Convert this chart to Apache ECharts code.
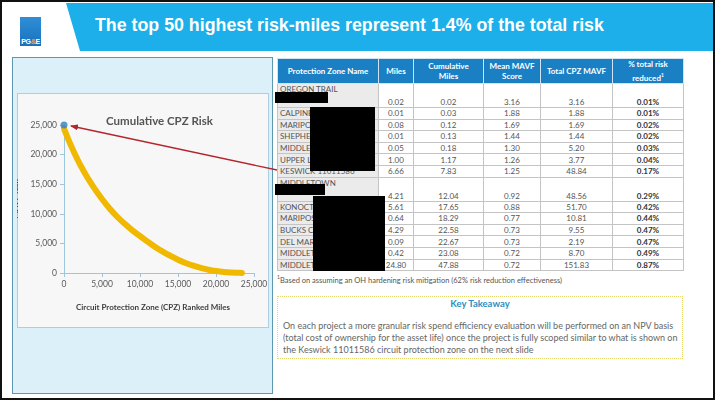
<!DOCTYPE html>
<html>
<head>
<meta charset="utf-8">
<script src="https://cdn.jsdelivr.net/npm/echarts@6/dist/echarts.min.js"></script>
<style>
  html,body{margin:0;padding:0;width:715px;height:400px;overflow:hidden;background:#fff;font-family:Lato,"Open Sans",sans-serif;}
  #page{position:absolute;left:0;top:0;width:711px;height:396px;border:2px solid #111;}
  .abs{position:absolute;}
  #hdr{left:62px;top:3px;width:651px;height:48px;background:#1cafe9;clip-path:polygon(4px 0,100% 0,100% 100%,18px 100%);}
  #title{left:95px;top:15px;color:#fff;font-family:"Liberation Sans Narrow","Liberation Sans",sans-serif;font-weight:bold;font-size:17.8px;white-space:nowrap;}
  #logo{left:20px;top:17px;width:21px;height:29px;background:linear-gradient(#2f8fd6,#1a70bd);}
  #logo span{position:absolute;left:0;bottom:1px;width:21px;text-align:center;color:#fff;font-family:"Liberation Sans Narrow",sans-serif;font-weight:bold;font-size:7px;letter-spacing:-0.3px;}
  #panel{left:12px;top:57px;width:259px;height:335px;background:#dcf0f9;border:1.5px solid #5e97b0;}
  #chartbox{left:17px;top:93px;width:250px;height:233px;background:#f7f7f7;border:1px solid #a9cfe0;}
  #chart{left:17px;top:93px;width:251px;height:234px;}
  table{border-collapse:collapse;table-layout:fixed;font-family:Lato,sans-serif;}
  #tbl{left:277px;top:58px;width:406px;}
  #tbl th{background:#1b7fc4;color:#fff;font-size:8px;font-weight:bold;height:24px;padding:0 2px;border:1px solid #cfe3f2;line-height:10.5px;}
  #tbl td{font-size:8px;color:#555;border:1px solid #c4c4c4;text-align:center;padding:0;height:10.6px;line-height:10px;white-space:nowrap;overflow:hidden;}
  #tbl td.n{background:#ebebeb;text-align:left;padding-left:2px;}
  #tbl td.p{font-weight:bold;color:#333;}
  #tbl tr.tall td{height:23px;vertical-align:bottom;}
  #tbl tr.tall td.n{vertical-align:top;}
  .blk{position:absolute;background:#000;}
  #foot{left:277px;top:274px;font-size:7.5px;color:#555;white-space:nowrap;}
  #kt{left:277px;top:296px;width:404px;height:61px;border:1.5px dotted #e3d66a;}
  #kth{left:277px;top:298px;width:406px;text-align:center;color:#2d8fc0;font-weight:bold;font-size:9.5px;}
  #ktb{left:283px;top:320px;width:398px;color:#666;font-size:9px;line-height:11.8px;}
  #arrow{left:0;top:0;width:715px;height:400px;pointer-events:none;}
</style>
</head>
<body>
<div id="page"></div>
<div id="hdr" class="abs"></div>
<div id="title" class="abs">The top 50 highest risk-miles represent 1.4% of the total risk</div>
<div id="logo" class="abs"><span>PG<span style="position:static;color:#f5a623;">&amp;</span>E</span></div>
<div id="panel" class="abs"></div>
<div id="chartbox" class="abs"></div>
<div id="chart" class="abs"></div>
<div id="tbl" class="abs"></div>
<div id="foot" class="abs"><sup style="font-size:5px">1</sup>Based on assuming an OH hardening risk mitigation (62% risk reduction effectiveness)</div>
<div id="kt" class="abs"></div>
<div id="kth" class="abs">Key Takeaway</div>
<div id="ktb" class="abs">On each project a more granular risk spend efficiency evaluation will be performed on an NPV basis (total cost of ownership for the asset life) once the project is fully scoped similar to what is shown on the Keswick 11011586 circuit protection zone on the next slide</div>
<div class="blk" style="left:275px;top:92px;width:53px;height:11px"></div>
<div class="blk" style="left:310px;top:107px;width:65px;height:64px"></div>
<div class="blk" style="left:275px;top:184px;width:50px;height:11px"></div>
<div class="blk" style="left:313px;top:196px;width:72px;height:75px"></div>
<svg id="arrow" class="abs" viewBox="0 0 715 400">
  <defs><marker id="ah" markerWidth="8" markerHeight="6" refX="7" refY="3" orient="auto" markerUnits="userSpaceOnUse"><path d="M0,0 L8,3 L0,6 z" fill="#b3262c"/></marker></defs>
  <line x1="277" y1="170" x2="71" y2="126" stroke="#b3262c" stroke-width="1.3" marker-end="url(#ah)"/>
</svg>
<script>
// ---- chart data ----
const cpzMiles = [0, 500, 1000, 1500, 2000, 3000, 4000, 5000, 6000, 7000, 8000, 9000, 10000, 11000, 12000, 13000, 14000, 15000, 16000, 17000, 18000, 19000, 20000, 21000, 22000, 23000, 23400];
const mavfRisk = [24400, 22800, 21300, 19900, 18600, 16300, 14300, 12500, 10900, 9500, 8300, 7200, 6250, 5300, 4400, 3600, 2900, 2250, 1700, 1230, 860, 560, 340, 180, 90, 40, 20];
const topPointMiles = [0];
const topPointRisk = [25000];
const axisTicks = [0, 5000, 10000, 15000, 20000, 25000];

// ---- table data ----
const zoneNames = ["OREGON TRAIL", "CALPINE", "MARIPOSA", "SHEPHERD", "MIDDLETOWN", "UPPER LAKE", "KESWICK 11011586", "MIDDLETOWN", "KONOCTI", "MARIPOSA", "BUCKS CREEK", "DEL MAR", "MIDDLETOWN", "MIDDLETOWN"];
const miles = ["0.02", "0.01", "0.08", "0.01", "0.05", "1.00", "6.66", "4.21", "5.61", "0.64", "4.29", "0.09", "0.42", "24.80"];
const cumMiles = ["0.02", "0.03", "0.12", "0.13", "0.18", "1.17", "7.83", "12.04", "17.65", "18.29", "22.58", "22.67", "23.08", "47.88"];
const meanMavf = ["3.16", "1.88", "1.69", "1.44", "1.30", "1.26", "1.25", "0.92", "0.88", "0.77", "0.73", "0.73", "0.72", "0.72"];
const totalMavf = ["3.16", "1.88", "1.69", "1.44", "5.20", "3.77", "48.84", "48.56", "51.70", "10.81", "9.55", "2.19", "8.70", "151.83"];
const pctReduced = ["0.01%", "0.01%", "0.02%", "0.02%", "0.03%", "0.04%", "0.17%", "0.29%", "0.42%", "0.44%", "0.47%", "0.47%", "0.49%", "0.87%"];
const tallRows = [0, 7];

// build table
(function(){
  const widths = [101, 35, 70, 57, 72, 71];
  const heads = ["Protection Zone Name", "Miles", "Cumulative<br>Miles", "Mean MAVF<br>Score", "Total CPZ MAVF", "% total risk<br>reduced<sup style='font-size:5px'>1</sup>"];
  let h = '<table style="width:406px"><colgroup>' + widths.map(w => '<col style="width:' + w + 'px">').join('') + '</colgroup>';
  h += '<tr>' + heads.map(t => '<th>' + t + '</th>').join('') + '</tr>';
  for (let i = 0; i < zoneNames.length; i++) {
    h += '<tr' + (tallRows.includes(i) ? ' class="tall"' : '') + '>' +
      '<td class="n">' + zoneNames[i] + '</td><td>' + miles[i] + '</td><td>' + cumMiles[i] + '</td><td>' + meanMavf[i] +
      '</td><td>' + totalMavf[i] + '</td><td class="p">' + pctReduced[i] + '</td></tr>';
  }
  h += '</table>';
  document.getElementById('tbl').innerHTML = h;
})();

const fmt = v => v.toLocaleString('en-US');
const chart = echarts.init(document.getElementById('chart'), null, {renderer: 'canvas'});
const axisCol = '#9cc6dc';
chart.setOption({
  animation: false,
  backgroundColor: 'transparent',
  title: {
    text: 'Cumulative CPZ Risk', left: 84, top: 17,
    textStyle: {fontFamily: 'Lato', fontSize: 11.5, fontWeight: 'bold', color: '#555555'}
  },
  grid: {left: 47, right: 14, top: 32, bottom: 54, containLabel: false, outerBoundsMode: 'none'},
  xAxis: {
    type: 'value', min: axisTicks[0], max: axisTicks[axisTicks.length - 1], interval: 5000,
    name: 'Circuit Protection Zone (CPZ) Ranked Miles', nameLocation: 'middle', nameGap: 30,
    nameTextStyle: {fontFamily: 'Lato', fontSize: 8, fontWeight: 'bold', color: '#404040', padding: [0, 12, 0, 0]},
    axisLine: {show: true, lineStyle: {color: axisCol, width: 1}},
    axisTick: {show: true, length: 4, lineStyle: {color: axisCol}},
    splitLine: {show: false},
    axisLabel: {formatter: fmt, fontFamily: 'Lato', fontSize: 8.5, color: '#595959', margin: 7}
  },
  yAxis: {
    type: 'value', min: axisTicks[0], max: axisTicks[axisTicks.length - 1], interval: 5000,
    name: 'MAVF Risk', nameLocation: 'middle', nameGap: 39, nameRotate: 90,
    nameTextStyle: {fontFamily: 'Lato', fontSize: 8, fontWeight: 'bold', color: '#404040'},
    axisLine: {show: true, lineStyle: {color: axisCol, width: 1}},
    axisTick: {show: true, length: 4, lineStyle: {color: axisCol}},
    splitLine: {show: false},
    axisLabel: {formatter: fmt, fontFamily: 'Lato', fontSize: 8.5, color: '#595959', margin: 7}
  },
  series: [
    {
      type: 'line', smooth: 0.4, showSymbol: false, symbol: 'none',
      data: cpzMiles.map((m, i) => [m, mavfRisk[i]]),
      lineStyle: {color: '#f1b800', width: 6, cap: 'round', join: 'round'},
      z: 2
    },
    {
      type: 'scatter', symbol: 'circle', symbolSize: 7,
      data: topPointMiles.map((m, i) => [m, topPointRisk[i]]),
      itemStyle: {color: '#2f7fc8'},
      z: 3
    }
  ]
});
</script>
</body>
</html>
